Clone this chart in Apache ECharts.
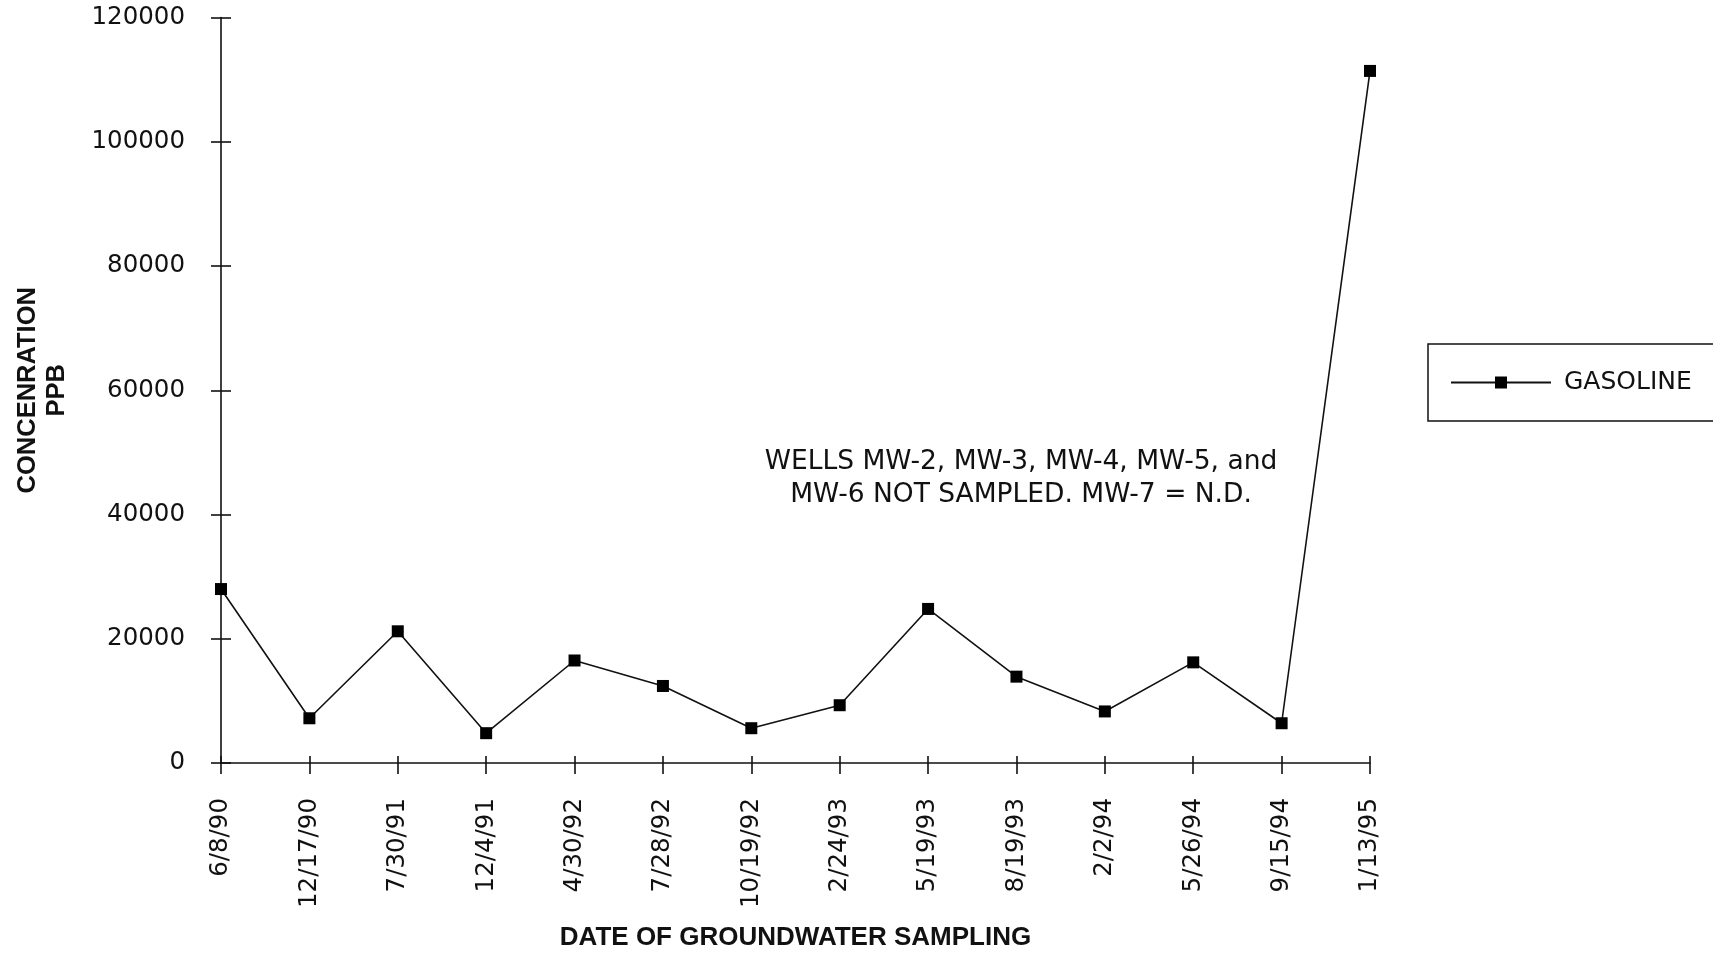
<!DOCTYPE html>
<html>
<head>
<meta charset="utf-8">
<title>Gasoline concentration in groundwater</title>
<script src="https://cdn.jsdelivr.net/npm/echarts@6/dist/echarts.min.js"></script>
<style>
  html, body { margin: 0; padding: 0; background: #fff; }
  #chart { width: 1713px; height: 956px; }
</style>
</head>
<body>
<div id="chart"></div>
<script>
// Sampling dates (category axis)
const sampleDates = ['6/8/90', '12/17/90', '7/30/91', '12/4/91', '4/30/92', '7/28/92', '10/19/92',
  '2/24/93', '5/19/93', '8/19/93', '2/2/94', '5/26/94', '9/15/94', '1/13/95'];

// Gasoline concentration, ppb
const gasoline = [28000, 7200, 21200, 4800, 16500, 12400, 5600,
  9300, 24800, 13900, 8300, 16200, 6400, 111400];

// Value axis ticks
const yTicks = [0, 20000, 40000, 60000, 80000, 100000, 120000];

const seriesName = 'GASOLINE';
const yTitle = 'CONCENRATION\nPPB';
const xTitle = 'DATE OF GROUNDWATER SAMPLING';
const noteLines = ['WELLS MW-2, MW-3, MW-4, MW-5, and', 'MW-6 NOT SAMPLED. MW-7 = N.D.'];

const ink = '#111';
const tickFont = 'DejaVu Sans, Verdana, sans-serif';
const titleFont = 'Liberation Sans, Arial, Helvetica, sans-serif';

const yMin = yTicks[0];
const yMax = yTicks[yTicks.length - 1];
const yStep = yTicks[1] - yTicks[0];

const chart = echarts.init(document.getElementById('chart'), null, { renderer: 'canvas' });

const axisLineStyle = { color: ink, width: 1.6 };

chart.setOption({
  backgroundColor: '#fff',
  animation: false,
  grid: { left: 221, right: 343, top: 17.5, bottom: 192, containLabel: false },
  xAxis: [
    {
      type: 'category',
      data: sampleDates,
      boundaryGap: false,
      position: 'bottom',
      axisLine: { show: true, lineStyle: axisLineStyle },
      axisTick: { show: true, inside: false, length: 11, lineStyle: axisLineStyle },
      axisLabel: {
        rotate: 90, margin: 35, color: ink,
        fontFamily: tickFont, fontSize: 24.5, interval: 0
      },
      splitLine: { show: false },
      name: xTitle,
      nameLocation: 'middle',
      nameGap: 162,
      nameTextStyle: {
        fontFamily: titleFont, fontWeight: 'bold', fontSize: 26, color: ink,
        verticalAlign: 'top'
      }
    },
    {
      // inward half of the crossing tick marks
      type: 'category',
      data: sampleDates,
      boundaryGap: false,
      position: 'bottom',
      axisLine: { show: false },
      axisTick: { show: true, inside: true, length: 7, lineStyle: axisLineStyle },
      axisLabel: { show: false },
      splitLine: { show: false }
    }
  ],
  yAxis: [
    {
      type: 'value',
      min: yMin, max: yMax, interval: yStep,
      position: 'left',
      axisLine: { show: true, lineStyle: axisLineStyle },
      axisTick: { show: true, inside: false, length: 10, lineStyle: axisLineStyle },
      axisLabel: {
        margin: 36, color: ink, fontFamily: tickFont, fontSize: 24.5,
        formatter: v => String(v)
      },
      splitLine: { show: false },
      name: yTitle,
      nameLocation: 'middle',
      nameRotate: 90,
      nameGap: 150,
      nameTextStyle: {
        fontFamily: titleFont, fontWeight: 'bold', fontSize: 25.5, color: ink,
        lineHeight: 29, align: 'center'
      }
    },
    {
      // inward half of the crossing tick marks
      type: 'value',
      min: yMin, max: yMax, interval: yStep,
      position: 'left',
      axisLine: { show: false },
      axisTick: { show: true, inside: true, length: 10, lineStyle: axisLineStyle },
      axisLabel: { show: false },
      splitLine: { show: false }
    }
  ],
  legend: {
    show: true,
    data: [seriesName],
    left: 1428,
    top: 344,
    orient: 'horizontal',
    padding: [26, 60, 26, 22],
    itemWidth: 100,
    itemHeight: 15,
    borderColor: ink,
    borderWidth: 1.5,
    borderRadius: 0,
    backgroundColor: '#fff',
    textStyle: {
      fontFamily: tickFont, fontSize: 25, color: ink,
      padding: [0, 0, 0, 8]
    }
  },
  graphic: [
    {
      type: 'text',
      x: 1021,
      y: 446,
      style: {
        text: noteLines.join('\n'),
        fill: ink,
        font: '26.5px ' + tickFont,
        lineHeight: 33,
        align: 'center',
        verticalAlign: 'top'
      }
    }
  ],
  series: [
    {
      name: seriesName,
      type: 'line',
      xAxisIndex: 0,
      yAxisIndex: 0,
      data: gasoline,
      symbol: 'rect',
      symbolSize: 12,
      showAllSymbol: true,
      itemStyle: { color: '#000' },
      lineStyle: { color: ink, width: 1.6 },
      emphasis: { disabled: true }
    }
  ]
});
</script>
</body>
</html>
